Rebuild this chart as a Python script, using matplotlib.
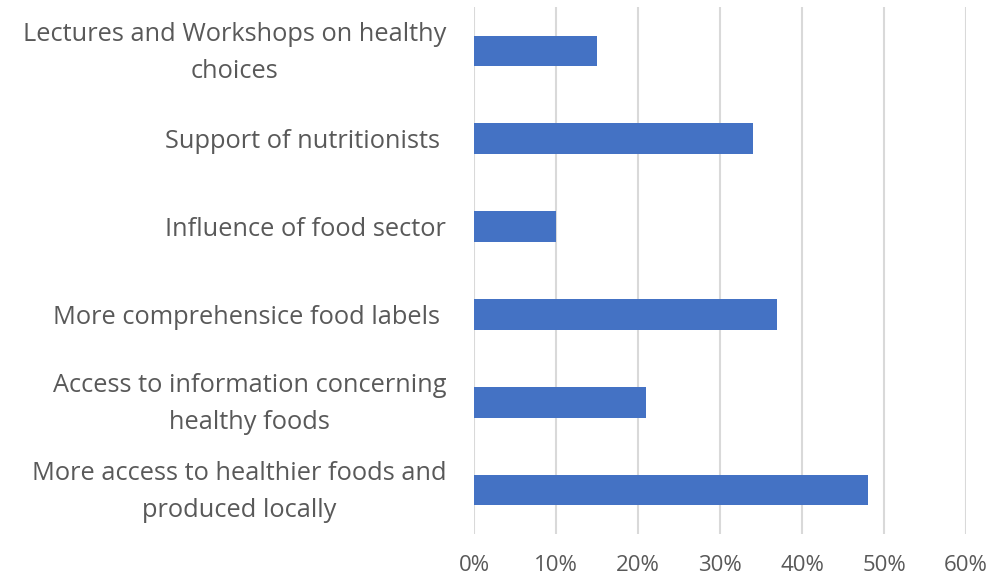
import matplotlib
matplotlib.use("Agg")
import matplotlib.pyplot as plt
from matplotlib.ticker import FuncFormatter
from matplotlib.transforms import ScaledTranslation

categories = [
    "Lectures and Workshops on healthy\nchoices",
    "Support of nutritionists ",
    "Influence of food sector",
    "More comprehensice food labels ",
    "Access to information concerning\nhealthy foods",
    "More access to healthier foods and\nproduced locally",
]
values = [0.15, 0.34, 0.10, 0.37, 0.21, 0.48]
xticks = [0, 0.1, 0.2, 0.3, 0.4, 0.5, 0.6]

plt.rcParams['font.family'] = ['Open Sans', 'DejaVu Sans']

fig = plt.figure(figsize=(9.94, 5.77), dpi=100)
ax = fig.add_axes([474/994, 1-534/577, (966-474)/994, (534-7)/577])

ypos = list(range(len(categories)))
ax.barh(ypos, values, height=0.35, color='#4472C4', zorder=3)
ax.set_ylim(len(categories)-0.5, -0.5)
ax.set_xlim(0, 0.6)
ax.set_xticks(xticks)
ax.xaxis.set_major_formatter(FuncFormatter(lambda v, p: f"{v*100:.0f}%"))
ax.set_yticks(ypos)
ax.set_yticklabels(categories, multialignment='center', linespacing=1.62)
ax.grid(axis='x', color='#D9D9D9', linewidth=1.5, zorder=0)
for s in ax.spines.values():
    s.set_visible(False)
ax.tick_params(axis='both', length=0, colors='#595959')
ax.tick_params(axis='y', pad=20, labelsize=18.3)
ax.tick_params(axis='x', pad=15, labelsize=16)

shift = ScaledTranslation(0, 0.07, fig.dpi_scale_trans)
for lab in ax.get_yticklabels():
    if "\n" in lab.get_text():
        lab.set_transform(lab.get_transform() + shift)

fig.savefig("out.png", dpi=100)
